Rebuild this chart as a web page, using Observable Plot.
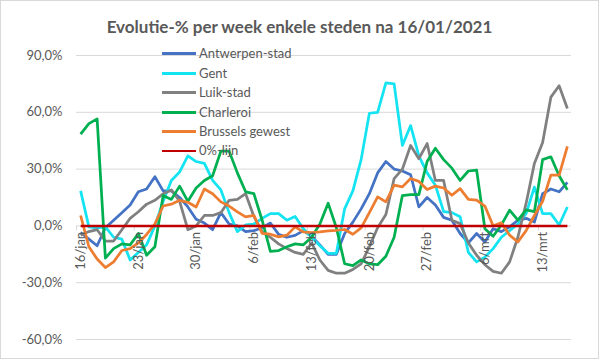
<!DOCTYPE html>
<html><head><meta charset="utf-8">
<script src="https://cdn.jsdelivr.net/npm/d3@7"></script>
<script src="https://cdn.jsdelivr.net/npm/@observablehq/plot@0.6"></script>
<style>
html,body{margin:0;padding:0;background:#fff;}
#wrap{position:relative;width:599px;height:359px;overflow:hidden;font-family:Lato,sans-serif;}
#frame{position:absolute;left:0;top:0;width:597px;height:357px;border:1px solid #d9d9d9;pointer-events:none;}
#title{position:absolute;left:0;width:599px;top:16px;text-align:center;font-weight:bold;font-size:17px;color:#595959;white-space:nowrap;}
#legend{position:absolute;left:162px;top:44.3px;}
.row{display:flex;align-items:center;height:19.4px;}
.sw{width:34px;height:3px;margin-right:3px;}
.lab{font-size:13px;color:#595959;line-height:1;}
#chart{position:absolute;left:0;top:0;}
</style></head>
<body>
<div id="wrap">
  <div id="chart"></div>
  <div id="title">Evolutie-% per week enkele steden na 16/01/2021</div>
  <div id="legend"></div>
  <div id="frame"></div>
</div>
<script>
// categories: 60 daily points, 16/jan .. 16/mrt 2021 (index 0..59)
const startDate = "2021-01-16";
const dayCount = 60;
const tickLabels = ["16/jan","23/jan","30/jan","6/feb","13/feb","20/feb","27/feb","6/mrt","13/mrt"];
const tickDays = [0,7,14,21,28,35,42,49,56];
const yTicks = [-60,-30,0,30,60,90];

const seriesNames = ["Antwerpen-stad","Gent","Luik-stad","Charleroi","Brussels gewest","0%-lijn"];
const seriesColors = ["#4472C4","#14E3F2","#808080","#00B050","#ED7D31","#C00000"];

const antwerpen = [-3.5,-7,-10.5,-1,3,7,11,18,19.5,26,18.5,18.5,15,10,3.5,1.5,-2,7,1,0,-3,-2.5,-1,1.5,-4.5,-6,-5,-2.5,-5.5,-10,-15,-15,-4,2,9,17,28,34,30,29,27,10,15,11,4.5,3,-4,-9,-4,-8.5,-1.5,-3,-0.5,3,4,2,17,19.5,18,23];
const gent = [18.5,-0.5,-1,-0.5,-6,-7,-18,-14,-10,0,13,24,28.5,37,34,33,24,19,7,-3,0.5,1,4,6.5,6.5,3,5,-1.5,-6,-10.5,-14.5,-14.5,9,18.5,35,59.5,60,75.5,75,42.5,53,37,28,21.5,7.5,7,4.8,-14,-19,-16.5,-12,-6,-2.5,1,6.5,20.5,6.5,6.5,0.5,10];
const luik = [-5,-3,-2,-8,-8,-2,4,7.5,11.5,13.5,17,19,13,-2,0,5.5,5.5,7,13.5,14,17,5,-3,-6,-9.5,-12,-14,-15,-9,-18,-23.5,-25,-25,-23,-20,-11,-1,6,25,30,42.5,35.5,43.5,24,24,3,1.2,-9,-15.5,-20.5,-24,-25,-19,-6,12,33,44,68,74,62];
const charleroi = [48.5,54,56.5,-17,-12,-9.5,-10,-4,-15.5,-11,16,14,21,13,20,24,26.5,39.5,39.5,28,18,17,3,-13.5,-13,-11,-9.5,-10,-6,1,12,-1,-20,-21,-18,-20,-20.5,-16,-6,16,16.5,16.5,34,41,35,30.5,24,29,29.5,-1.5,-5.5,0.5,8.3,3,8.5,7.5,35,36.5,26.5,19];
const brussel = [5.5,-11,-17.5,-22,-19,-13,-12,-9,-4.5,1,10.5,11.5,13.5,12.5,10,19.5,17,12.7,10.5,7.4,4.8,5.6,-4,-4.4,-5.8,-4.9,-0.5,-3.2,-3.5,-3.2,-2.6,-2.3,-1.9,-4.4,-1,7,15.3,12.7,21.5,20.6,25,23.5,19.2,21,20,16.2,19.7,14,13.6,10.5,0,1.6,-4.9,-8.5,-2.5,5.5,13,26.8,26.8,42];
const nulLijn = new Array(dayCount).fill(0);

const allSeries = [antwerpen, gent, luik, charleroi, brussel, nulLijn];

const fmtPct = v => (v < 0 ? "-" : "") + Math.abs(v).toFixed(1).replace(".", ",") + "%";
const textColor = "#595959";
const gridColor = "#d9d9d9";

const lineMarks = allSeries.map((vals, s) =>
  Plot.line(vals.map((v, i) => ({i, v})), {
    x: "i", y: "v", stroke: seriesColors[s],
    strokeWidth: s === 5 ? 2.5 : 2.75, strokeLinejoin: "round", strokeLinecap: "butt"
  })
);

const chart = Plot.plot({
  width: 599, height: 359,
  marginLeft: 76, marginRight: 28, marginTop: 55, marginBottom: 20,
  style: {fontFamily: "Lato, sans-serif", fontSize: "13px", color: textColor, background: "transparent"},
  x: {domain: [-0.5, dayCount - 0.5], axis: null, label: null},
  y: {domain: [-60, 90], axis: null, label: null},
  marks: [
    Plot.ruleY(yTicks.filter(d => d !== 0), {stroke: gridColor, strokeWidth: 1}),
    Plot.ruleY([0], {stroke: gridColor, strokeWidth: 1}),
    Plot.ruleX(tickDays, {x: d => d - 0.5, y1: 0, y2: -2.7, stroke: gridColor}),
    Plot.axisY({ticks: yTicks, tickFormat: fmtPct, tickSize: 0, tickPadding: 14, fontSize: 13, fill: textColor, label: null}),
    ...lineMarks,
    Plot.text(tickDays, {x: d => d, y: 0, text: (d, i) => tickLabels[i], rotate: -90, textAnchor: "end", dy: 6, fill: textColor, fontSize: 13})
  ]
});
document.getElementById("chart").appendChild(chart);

const legend = document.getElementById("legend");
seriesNames.forEach((name, s) => {
  const row = document.createElement("div");
  row.className = "row";
  row.innerHTML = `<div class="sw" style="background:${seriesColors[s]};height:${s===5?2.5:3}px"></div><div class="lab">${name}</div>`;
  legend.appendChild(row);
});
</script>
</body></html>
